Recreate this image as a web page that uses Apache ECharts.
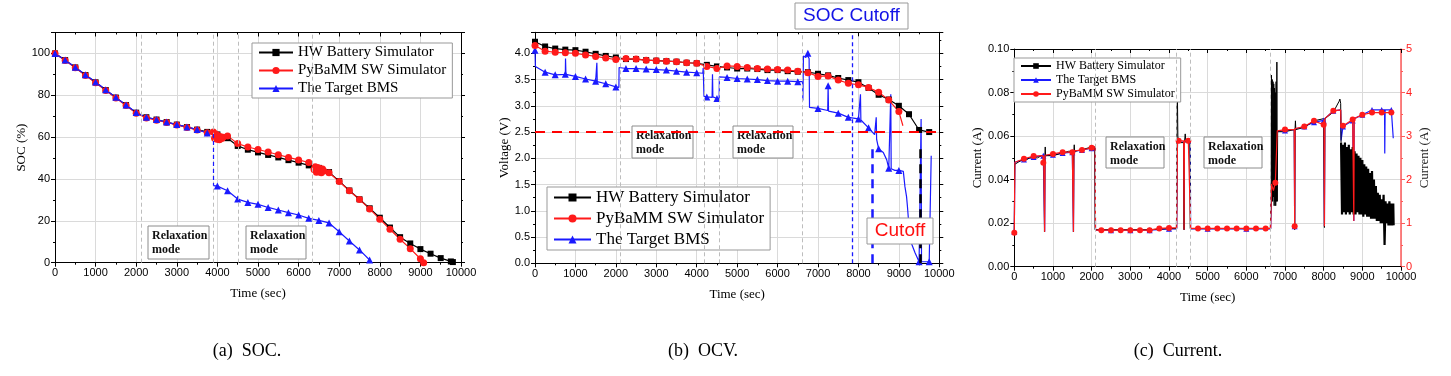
<!DOCTYPE html>
<html>
<head>
<meta charset="utf-8">
<script src="https://cdn.jsdelivr.net/npm/echarts@6.0.0/dist/echarts.min.js"></script>
<style>
html,body{margin:0;padding:0;background:#fff}
#chart{width:1451px;height:376px}
</style>
</head>
<body>
<div id="chart"></div>
<script>
// ---- data: [time (s), value] ----
var seriesNames = ['HW Battery Simulator', 'PyBaMM SW Simulator', 'The Target BMS'];

// (a) SOC (%)
var hwSoc = [[0,100],[250,96.8],[500,93.3],[750,89.7],[1000,86.2],[1250,82.5],[1500,78.9],[1750,75.3],[2000,71.7],[2250,69.5],[2500,68.4],[2750,67.2],[3000,66.0],[3250,64.8],[3500,63.6],[3750,62.5],[4000,61.3],[4250,59.5],[4500,55.8],[4750,54.0],[5000,52.7],[5250,51.5],[5500,50.3],[5750,49.0],[6000,47.8],[6250,46.5],[6500,45.3],[6750,43.3],[7000,39.0],[7250,34.5],[7500,30.3],[7750,26.0],[8000,21.5],[8250,16.8],[8500,12.2],[8750,9.2],[9000,6.5],[9250,4.3],[9500,2.2],[9750,0.6],[9800,0.3]];
var pySoc = [[0,100],[250,96.6],[500,93.1],[750,89.5],[1000,86.0],[1250,82.3],[1500,78.7],[1750,75.1],[2000,71.4],[2250,69.2],[2500,68.1],[2750,67.0],[3000,65.8],[3250,64.6],[3500,63.4],[3750,62.1],[3900,62.5],[3930,59.5],[3960,61.5],[3990,59.0],[4020,60.8],[4050,58.8],[4080,60.2],[4110,59.3],[4140,60.0],[4250,60.6],[4500,56.9],[4750,55.3],[5000,54.1],[5250,52.9],[5500,51.6],[5750,50.3],[6000,49.1],[6250,47.9],[6380,44.5],[6410,45.8],[6440,43.2],[6470,45.5],[6500,43.5],[6530,45.0],[6560,43.0],[6590,44.8],[6620,43.8],[6750,43.0],[7000,38.8],[7250,34.4],[7500,30.2],[7750,25.7],[8000,20.8],[8250,16.0],[8500,11.2],[8750,6.7],[9000,1.9],[9080,0]];
var bmsSoc = [[0,100],[250,96.9],[500,93.4],[750,89.8],[1000,86.3],[1250,82.6],[1500,79.0],[1750,75.4],[2000,71.8],[2250,69.5],[2500,68.4],[2750,67.2],[3000,66.0],[3250,64.9],[3500,63.6],[3750,62.0],[3900,61.5],[3900,'-'],[3900,36.8],[4000,36.6],[4250,34.4],[4500,30.4],[4750,28.8],[5000,27.9],[5250,26.4],[5500,25.2],[5750,23.9],[6000,22.8],[6250,21.2],[6500,20.2],[6750,19.0],[7000,14.8],[7250,10.4],[7500,6.1],[7750,1.3],[7800,0]];
var socDrop = [[3900,61.5],[3900,36.8]];
var relaxSoc = [2125,3900,4525,6345];

// (b) OCV (V)
var hwOcv = [[0,4.22],[250,4.13],[500,4.09],[750,4.07],[1000,4.06],[1250,4.03],[1500,3.99],[1750,3.95],[2000,3.92],[2250,3.89],[2500,3.89],[2750,3.87],[3000,3.86],[3250,3.85],[3500,3.84],[3750,3.82],[4000,3.81],[4250,3.78],[4500,3.75],[4750,3.73],[5000,3.71],[5250,3.71],[5500,3.70],[5750,3.68],[6000,3.68],[6250,3.66],[6500,3.65],[6750,3.64],[7000,3.61],[7250,3.58],[7500,3.53],[7750,3.49],[8000,3.45],[8250,3.34],[8500,3.21],[8750,3.12],[9000,3.00],[9250,2.84],[9500,2.54],[9750,2.50],[9850,2.50]];
var pyOcv = [[0,4.15],[250,4.04],[500,4.02],[750,4.01],[1000,4.00],[1250,3.97],[1500,3.94],[1750,3.91],[2000,3.88],[2250,3.90],[2500,3.89],[2750,3.87],[3000,3.86],[3250,3.85],[3500,3.84],[3750,3.82],[4000,3.81],[4250,3.75],[4500,3.71],[4750,3.76],[5000,3.75],[5250,3.73],[5500,3.71],[5750,3.70],[6000,3.69],[6250,3.68],[6500,3.66],[6750,3.63],[7000,3.56],[7250,3.57],[7500,3.49],[7750,3.43],[8000,3.40],[8250,3.35],[8500,3.26],[8750,3.11],[9000,2.89],[9100,2.62]];
var bmsOcv = [[0,4.06],[10,3.75],[250,3.64],[500,3.59],[750,3.60],[755,3.90],[765,3.60],[1000,3.56],[1250,3.51],[1500,3.47],[1525,3.46],[1530,3.82],[1540,3.46],[1750,3.42],[2000,3.36],[2075,3.35],[2080,3.73],[2250,3.71],[2500,3.71],[2750,3.70],[3000,3.69],[3250,3.68],[3500,3.66],[3750,3.64],[4000,3.63],[4150,3.62],[4160,3.72],[4180,3.18],[4250,3.17],[4380,3.16],[4390,3.60],[4400,3.17],[4500,3.14],[4555,3.14],[4560,3.55],[4750,3.54],[5000,3.52],[5250,3.51],[5500,3.50],[5750,3.48],[6000,3.47],[6250,3.47],[6500,3.46],[6620,3.46],[6625,3.10],[6640,3.95],[6700,3.92],[6720,3.98],[6750,4.00],[6780,3.90],[6790,2.97],[7000,2.95],[7240,2.91],[7250,3.38],[7260,2.90],[7500,2.86],[7750,2.78],[8000,2.75],[8045,2.74],[8050,3.22],[8060,2.73],[8250,2.58],[8400,2.45],[8430,2.42],[8440,2.78],[8450,2.36],[8500,2.18],[8615,2.11],[8700,1.97],[8750,1.81],[8790,1.80],[8800,3.22],[8810,1.80],[8900,1.77],[9000,1.77],[9110,1.75],[9150,1.46],[9190,1.27],[9210,1.10],[9260,0.60],[9300,0.40],[9400,0.20],[9500,0.03],[9540,0.03],[9550,2.75],[9560,0.03],[9750,0.03],[9790,0.03],[9800,2.05]];
var relaxOcv = [2100,4190,4550,6620];
var cutoffV = 2.5;
var socCutoffT = 7850;
var bmsCutT = 8335, hwCutT = 9538, cutTopV = 2.25;

// (c) Current: HW on left axis, PyBaMM / BMS on right axis (A)
var hwCur = [[0,0.016],[10,0.047],[100,0.048],[200,0.049],[300,0.049],[400,0.050],[500,0.050],[600,0.050],[700,0.051],[770,0.051],[780,0.016],[790,0.051],[800,0.055],[810,0.051],[1000,0.051],[1200,0.052],[1400,0.053],[1520,0.053],[1530,0.016],[1540,0.053],[1550,0.056],[1560,0.053],[1800,0.054],[2000,0.055],[2080,0.055],[2090,0.017],[2500,0.017],[3000,0.017],[3500,0.017],[4000,0.0175],[4190,0.0175],[4200,0.028],[4210,0.092],[4230,0.060],[4250,0.057],[4380,0.057],[4390,0.017],[4400,0.057],[4420,0.061],[4440,0.057],[4540,0.057],[4550,0.0175],[5000,0.0175],[6000,0.0175],[6620,0.0175],[6640,0.030],[6650,0.088],[6660,0.035],[6670,0.086],[6680,0.030],[6690,0.085],[6700,0.032],[6710,0.084],[6720,0.028],[6730,0.082],[6740,0.030],[6750,0.080],[6760,0.028],[6770,0.085],[6780,0.030],[6790,0.094],[6800,0.030],[6810,0.062],[7000,0.062],[7240,0.063],[7250,0.017],[7260,0.063],[7270,0.067],[7280,0.063],[7500,0.064],[7750,0.067],[8000,0.068],[8020,0.018],[8030,0.068],[8250,0.071],[8400,0.076],[8420,0.077],[8440,0.075],[8450,0.057]];
var hwCurBand = [[8450,0.057],[8475,0.024],[8500,0.056],[8525,0.025],[8550,0.057],[8575,0.024],[8600,0.055],[8625,0.025],[8650,0.056],[8675,0.024],[8700,0.054],[8725,0.025],[8750,0.055],[8775,0.024],[8800,0.053],[8825,0.024],[8850,0.052],[8875,0.025],[8900,0.051],[8925,0.024],[8950,0.050],[8975,0.024],[9000,0.049],[9025,0.023],[9050,0.047],[9075,0.024],[9100,0.046],[9125,0.023],[9150,0.045],[9175,0.023],[9200,0.043],[9225,0.022],[9250,0.044],[9275,0.022],[9300,0.040],[9325,0.022],[9350,0.037],[9375,0.021],[9400,0.034],[9425,0.021],[9450,0.033],[9475,0.020],[9500,0.031],[9525,0.020],[9550,0.033],[9575,0.010],[9600,0.030],[9625,0.020],[9650,0.029],[9675,0.019],[9700,0.030],[9725,0.019],[9750,0.029],[9775,0.019],[9800,0.029],[9810,0.019]];
var pyCur = [[0,0.78],[15,2.40],[250,2.48],[500,2.54],[740,2.55],[750,2.39],[760,2.55],[780,2.55],[785,0.80],[795,2.56],[1000,2.59],[1250,2.63],[1500,2.63],[1525,2.64],[1530,0.80],[1540,2.66],[1750,2.68],[2000,2.73],[2090,2.76],[2100,0.84],[2250,0.84],[2500,0.84],[2750,0.84],[3000,0.84],[3250,0.84],[3500,0.84],[3750,0.88],[4000,0.89],[4200,0.89],[4220,2.89],[4250,2.89],[4380,2.89],[4390,0.85],[4400,2.89],[4500,2.89],[4550,2.89],[4560,0.88],[4750,0.88],[5000,0.88],[5250,0.88],[5500,0.88],[5750,0.88],[6000,0.88],[6250,0.88],[6500,0.88],[6630,0.88],[6650,1.90],[6700,1.75],[6750,1.93],[6780,1.95],[6800,3.12],[7000,3.15],[7240,3.15],[7250,0.93],[7260,3.17],[7500,3.22],[7750,3.35],[8000,3.26],[8010,3.38],[8020,0.93],[8030,3.40],[8250,3.58],[8440,3.60],[8450,3.20],[8500,3.24],[8750,3.38],[8780,1.05],[8790,3.40],[9000,3.49],[9250,3.54],[9500,3.54],[9750,3.54],[9800,3.54]];
var bmsCur = [[0,0.80],[15,2.40],[250,2.46],[500,2.52],[750,2.55],[780,2.55],[785,0.80],[795,2.55],[1000,2.57],[1250,2.61],[1500,2.63],[1525,2.64],[1530,0.80],[1540,2.65],[1750,2.68],[2000,2.72],[2090,2.75],[2100,0.84],[2500,0.84],[3000,0.84],[3500,0.84],[4000,0.87],[4200,0.87],[4220,2.85],[4380,2.87],[4390,0.85],[4400,2.87],[4550,2.87],[4560,0.87],[5000,0.87],[6000,0.87],[6630,0.87],[6650,1.70],[6700,2.00],[6780,1.80],[6800,3.10],[7000,3.13],[7240,3.15],[7250,0.93],[7260,3.16],[7500,3.22],[7750,3.32],[8000,3.36],[8020,0.93],[8030,3.40],[8250,3.58],[8440,3.60],[8450,2.90],[8500,3.22],[8750,3.36],[8780,1.05],[8790,3.40],[9000,3.49],[9250,3.60],[9500,3.60],[9575,3.60],[9580,2.60],[9590,3.60],[9750,3.60],[9790,3.60],[9800,2.95]];
var relaxCur = [2090,4200,4550,6630];

// ---- styling ----
var SANS = '"Liberation Sans", Arial, sans-serif';
var SERIF = '"Liberation Serif", "Times New Roman", serif';
var BLACK = '#000', RED = '#ff1a1a', BLUE = '#1a1aff';

// markers only on the 250 s sampling points
function marks(arr, sym) {
    return arr.map(function(p) {
        return { value: p, symbol: (p[0] % 250 === 0) ? sym : 'none' };
    });
}

// every grid owns two x axes (bottom, top) and two y axes (left, right)
function ax(g) { return 2 * g; }

function bottomX(g, gap) {
    return {
        gridIndex: g, type: 'value', min: 0, max: 10000, interval: 1000, position: 'bottom',
        axisLine: { show: true, onZero: false, lineStyle: { color: BLACK } },
        axisTick: { show: true, length: 4, lineStyle: { color: BLACK } },
        minorTick: { show: true, splitNumber: 2, length: 2, lineStyle: { color: BLACK } },
        axisLabel: { color: BLACK, fontFamily: SANS, fontSize: 11, margin: 5,
            formatter: function(v) { return String(v); } },
        splitLine: { show: true, lineStyle: { color: '#dadada' } },
        name: 'Time (sec)', nameLocation: 'middle', nameGap: gap,
        nameTextStyle: { fontFamily: SERIF, fontSize: 13, color: BLACK }
    };
}
function topX(g) {
    return {
        gridIndex: g, type: 'value', min: 0, max: 10000, interval: 1000, position: 'top',
        axisLine: { show: true, onZero: false, lineStyle: { color: BLACK } },
        axisTick: { show: true, inside: true, length: 4, lineStyle: { color: BLACK } },
        minorTick: { show: true, splitNumber: 2, length: 2, lineStyle: { color: BLACK } },
        axisLabel: { show: false }, splitLine: { show: false }
    };
}
function leftY(g, max, interval, digits, showMax, name, gap) {
    return {
        gridIndex: g, type: 'value', min: 0, max: max, interval: interval, position: 'left',
        axisLine: { show: true, onZero: false, lineStyle: { color: BLACK } },
        axisTick: { show: true, length: 4, lineStyle: { color: BLACK } },
        minorTick: { show: true, splitNumber: 2, length: 2, lineStyle: { color: BLACK } },
        axisLabel: { color: BLACK, fontFamily: SANS, fontSize: 11, margin: 5, showMaxLabel: showMax,
            formatter: function(v) { return v.toFixed(digits); } },
        splitLine: { show: true, lineStyle: { color: '#dadada' } },
        name: name, nameLocation: 'middle', nameGap: gap,
        nameTextStyle: { fontFamily: SERIF, fontSize: 13, color: BLACK }
    };
}
function mirrorY(g, max, interval) {
    return {
        gridIndex: g, type: 'value', min: 0, max: max, interval: interval, position: 'right',
        axisLine: { show: true, onZero: false, lineStyle: { color: BLACK } },
        axisTick: { show: true, length: 4, lineStyle: { color: BLACK } },
        minorTick: { show: true, splitNumber: 2, length: 2, lineStyle: { color: BLACK } },
        axisLabel: { show: false }, splitLine: { show: false }
    };
}
function line(name, g, data, color, sym, size, yIdx) {
    return {
        name: name, type: 'line', xAxisIndex: ax(g), yAxisIndex: yIdx == null ? ax(g) : yIdx, data: data,
        symbol: sym, symbolSize: size, showSymbol: true,
        lineStyle: { color: color, width: 1.2 }, itemStyle: { color: color },
        z: 2, animation: false
    };
}
function guides(g, lines, style, z) {
    return {
        type: 'line', xAxisIndex: ax(g), yAxisIndex: ax(g), data: [], z: z, silent: true,
        markLine: { silent: true, symbol: 'none', label: { show: false },
            lineStyle: style, data: lines, animation: false }
    };
}
function relaxBox(x, y, w, h) {
    return [
        { type: 'rect', z: 1, shape: { x: x, y: y, width: w, height: h },
          style: { fill: '#fff', stroke: '#8c8c8c', lineWidth: 1 } },
        { type: 'text', z: 1, x: x + 4, y: y + 3,
          style: { text: 'Relaxation\nmode', font: 'bold 12px ' + SERIF, fill: '#111', lineHeight: 14 } }
    ];
}
function legendBox(left, top, order, fs, iw, ih, gap) {
    return {
        left: left, top: top, orient: 'vertical', data: order, selectedMode: false,
        itemWidth: iw, itemHeight: ih, itemGap: gap, padding: [2, 6, 2, 6],
        borderColor: '#999', borderWidth: 1, backgroundColor: '#fff',
        textStyle: { fontFamily: SERIF, fontSize: fs, color: BLACK }
    };
}

var grayDash = { color: '#bdbdbd', type: [4, 3], width: 1 };

var chart = echarts.init(document.getElementById('chart'));

var hwCurSeries = line(seriesNames[0], 2, hwCur, BLACK, 'rect', 4);
hwCurSeries.showSymbol = false;
hwCurSeries.lineStyle.width = 1;
// the dense oscillation after 8450 s is drawn heavier so it reads as a band
var hwBandSeries = line(seriesNames[0], 2, hwCurBand, BLACK, 'rect', 4);
hwBandSeries.showSymbol = false;
hwBandSeries.lineStyle.width = 2.2;
var pyCurSeries = line(seriesNames[1], 2, marks(pyCur, 'circle'), RED, 'circle', 6, 5);
pyCurSeries.z = 3;

var option = {
    backgroundColor: '#fff',
    animation: false,
    grid: [
        { left: 55, top: 32.5, width: 406, height: 230.2, outerBoundsMode: 'none' },
        { left: 535, top: 32.3, width: 404.3, height: 231, outerBoundsMode: 'none' },
        { left: 1014.3, top: 49, width: 386.7, height: 217.7, outerBoundsMode: 'none' }
    ],
    xAxis: [ bottomX(0, 24), topX(0), bottomX(1, 25), topX(1), bottomX(2, 24), topX(2) ],
    yAxis: [
        leftY(0, 110, 20, 0, false, 'SOC (%)', 22),
        mirrorY(0, 110, 20),
        leftY(1, 4.4, 0.5, 1, false, 'Voltage (V)', 24),
        mirrorY(1, 4.4, 0.5),
        leftY(2, 0.10, 0.02, 2, true, 'Current (A)', 26),
        {
            gridIndex: 2, type: 'value', min: 0, max: 5, interval: 1, position: 'right',
            axisLine: { show: true, onZero: false, lineStyle: { color: '#ff5a5a', width: 1.5 } },
            axisTick: { show: true, length: 4, lineStyle: { color: '#ff5a5a' } },
            minorTick: { show: true, splitNumber: 2, length: 2, lineStyle: { color: '#ff5a5a' } },
            axisLabel: { color: '#ff2020', fontFamily: SANS, fontSize: 11, margin: 5 },
            splitLine: { show: false },
            name: 'Current (A)', nameLocation: 'middle', nameGap: 17,
            nameTextStyle: { fontFamily: SERIF, fontSize: 13, color: '#222' }
        }
    ],
    legend: [
        legendBox(252, 43, seriesNames, 15, 34, 9, 3),
        legendBox(547, 187, seriesNames, 17, 37, 10, 4),
        legendBox(1014, 58, [seriesNames[0], seriesNames[2], seriesNames[1]], 12, 30, 7, 2)
    ],
    series: [
        // (a)
        guides(0, relaxSoc.map(function(t) { return { xAxis: t }; }), grayDash, 1),
        line(seriesNames[0], 0, hwSoc, BLACK, 'rect', 6),
        line(seriesNames[1], 0, pySoc, RED, 'circle', 7),
        line(seriesNames[2], 0, marks(bmsSoc, 'triangle'), BLUE, 'triangle', 7),
        guides(0, [[{ coord: socDrop[0] }, { coord: socDrop[1] }]], { color: BLUE, type: [4, 3], width: 1.2 }, 3),
        // (b)
        guides(1, relaxOcv.map(function(t) { return { xAxis: t }; }), grayDash, 1),
        line(seriesNames[2], 1, marks(bmsOcv, 'triangle'), BLUE, 'triangle', 7),
        line(seriesNames[0], 1, marks(hwOcv, 'rect'), BLACK, 'rect', 6),
        line(seriesNames[1], 1, marks(pyOcv, 'circle'), RED, 'circle', 7),
        guides(1, [{ yAxis: cutoffV }], { color: '#ff0000', type: [10, 7], width: 2 }, 4),
        guides(1, [{ xAxis: socCutoffT }], { color: BLUE, type: [4, 3], width: 1.3 }, 4),
        {
            type: 'line', xAxisIndex: ax(1), yAxisIndex: ax(1), data: [], z: 4, silent: true,
            markLine: {
                silent: true, symbol: ['none', 'triangle'], symbolSize: [0, 13], label: { show: false },
                animation: false,
                data: [
                    [{ coord: [bmsCutT, 0], lineStyle: { color: BLUE, type: [9, 6], width: 2.5 }, itemStyle: { color: BLUE } },
                     { coord: [bmsCutT, cutTopV] }],
                    [{ coord: [hwCutT, 0], lineStyle: { color: BLACK, type: [9, 6], width: 2.5 }, itemStyle: { color: BLACK } },
                     { coord: [hwCutT, cutTopV] }]
                ]
            }
        },
        // (c)
        guides(2, relaxCur.map(function(t) { return { xAxis: t }; }), grayDash, 1),
        line(seriesNames[2], 2, marks(bmsCur, 'triangle'), BLUE, 'triangle', 6, 5),
        hwCurSeries,
        hwBandSeries,
        pyCurSeries
    ],
    graphic: [].concat(
        relaxBox(148, 226, 61, 33), relaxBox(246, 226, 60, 33),
        relaxBox(632, 126, 61, 32), relaxBox(733, 126, 60, 32),
        relaxBox(1106, 137, 58, 31), relaxBox(1204, 137, 58, 31),
        [
            { type: 'rect', z: 10, shape: { x: 795, y: 3, width: 113, height: 26 },
              style: { fill: '#fff', stroke: '#999', lineWidth: 1 } },
            { type: 'text', z: 10, x: 851.5, y: 16,
              style: { text: 'SOC Cutoff', font: '19px ' + SANS, fill: '#1414e6',
                       textAlign: 'center', textVerticalAlign: 'middle', align: 'center', verticalAlign: 'middle' } },
            { type: 'rect', z: 10, shape: { x: 867, y: 218, width: 66, height: 26 },
              style: { fill: '#fff', stroke: '#999', lineWidth: 1 } },
            { type: 'text', z: 10, x: 900, y: 231,
              style: { text: 'Cutoff', font: '19px ' + SANS, fill: '#ff1010',
                       textAlign: 'center', textVerticalAlign: 'middle', align: 'center', verticalAlign: 'middle' } }
        ],
        [['(a)  SOC.', 247], ['(b)  OCV.', 703], ['(c)  Current.', 1178]].map(function(c) {
            return { type: 'text', z: 10, x: c[1], y: 351,
                style: { text: c[0], font: '18px ' + SERIF, fill: '#000',
                         textAlign: 'center', textVerticalAlign: 'middle', align: 'center', verticalAlign: 'middle' } };
        })
    )
};
chart.setOption(option);
</script>
</body>
</html>
